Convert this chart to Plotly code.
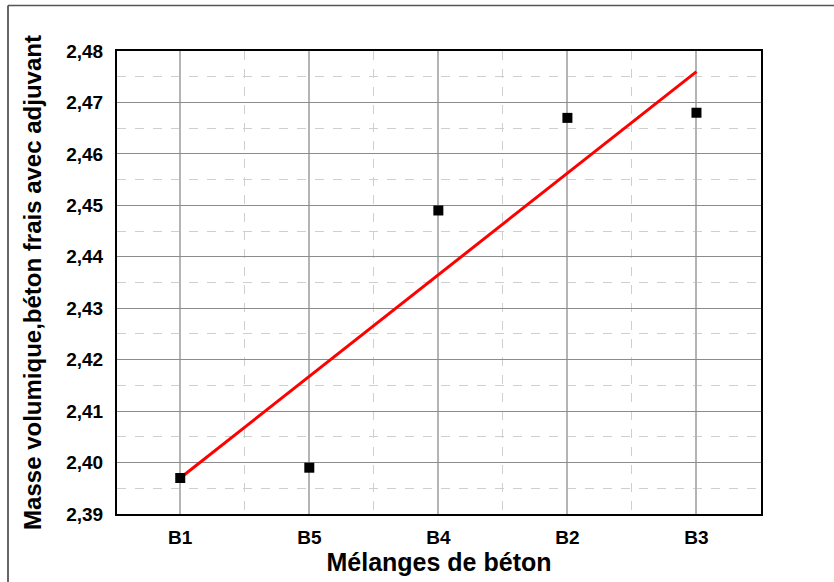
import plotly.graph_objects as go

categories = ["B1", "B5", "B4", "B2", "B3"]
densite = [2.397, 2.399, 2.449, 2.467, 2.468]
fit_x = [0, 4]
fit_y = [2.397, 2.476]
y_ticks = [2.39, 2.40, 2.41, 2.42, 2.43, 2.44, 2.45, 2.46, 2.47, 2.48]

xpos = list(range(len(categories)))

fig = go.Figure()
fig.add_trace(go.Scatter(x=[xpos[i] for i in fit_x], y=fit_y, mode="lines",
                         line=dict(color="#ff0000", width=3), showlegend=False))
fig.add_trace(go.Scatter(x=xpos, y=densite, mode="markers",
                         marker=dict(symbol="square", size=10, color="black"),
                         showlegend=False))

font_fam = "Liberation Sans, Arial, sans-serif"
L, T, PW, PH = 117, 51, 644, 463
fig.update_layout(
    width=834, height=582,
    margin=dict(l=L, r=834 - L - PW, t=T, b=582 - T - PH),
    plot_bgcolor="white", paper_bgcolor="white",
    separators=", ",
    font=dict(family=font_fam, color="black"),
    xaxis=dict(
        range=[-0.49, 4.5], automargin=False,
        tickmode="array", tickvals=xpos, ticktext=categories,
        tickfont=dict(size=19, weight="bold"),
        showline=True, linecolor="black", linewidth=2, mirror=True,
        showgrid=True, gridcolor="#b4b4b4", gridwidth=1.5,
        zeroline=False, ticks="", ticklabelstandoff=5,
        minor=dict(tickmode="array", tickvals=[0.5, 1.5, 2.5, 3.5],
                   showgrid=True, gridcolor="#cfcfcf", griddash="dash", gridwidth=1),
        title=dict(text="Mélanges de béton", font=dict(size=25, weight="bold"), standoff=6),
    ),
    yaxis=dict(
        range=[2.39, 2.48], automargin=False,
        tickmode="array", tickvals=y_ticks, tickformat=".2f",
        tickfont=dict(size=19, weight="bold"),
        showline=True, linecolor="black", linewidth=2, mirror=True,
        showgrid=True, gridcolor="#8c8c8c", gridwidth=1,
        zeroline=False, ticks="", ticklabelstandoff=8,
        minor=dict(dtick=0.005, tick0=2.385, showgrid=True, gridcolor="#cfcfcf",
                   griddash="dash", gridwidth=1),
        title=dict(text="Masse volumique,béton frais avec adjuvant",
                   font=dict(size=24, weight="bold"), standoff=18),
    ),
    shapes=[
        dict(type="line", xref="paper", yref="paper", x0=(8 - L) / PW, x1=(8 - L) / PW,
             y0=(T + PH - 5.5) / PH, y1=-0.2, line=dict(color="#333333", width=1.5)),
        dict(type="line", xref="paper", yref="paper", x0=(8 - L) / PW, x1=1.2,
             y0=(T + PH - 5.5) / PH, y1=(T + PH - 5.5) / PH, line=dict(color="#555555", width=1.5)),
    ],
)

fig.write_html("out.html", config={"displayModeBar": False},
               post_script="document.body.style.margin='0';document.body.style.overflow='hidden';")
